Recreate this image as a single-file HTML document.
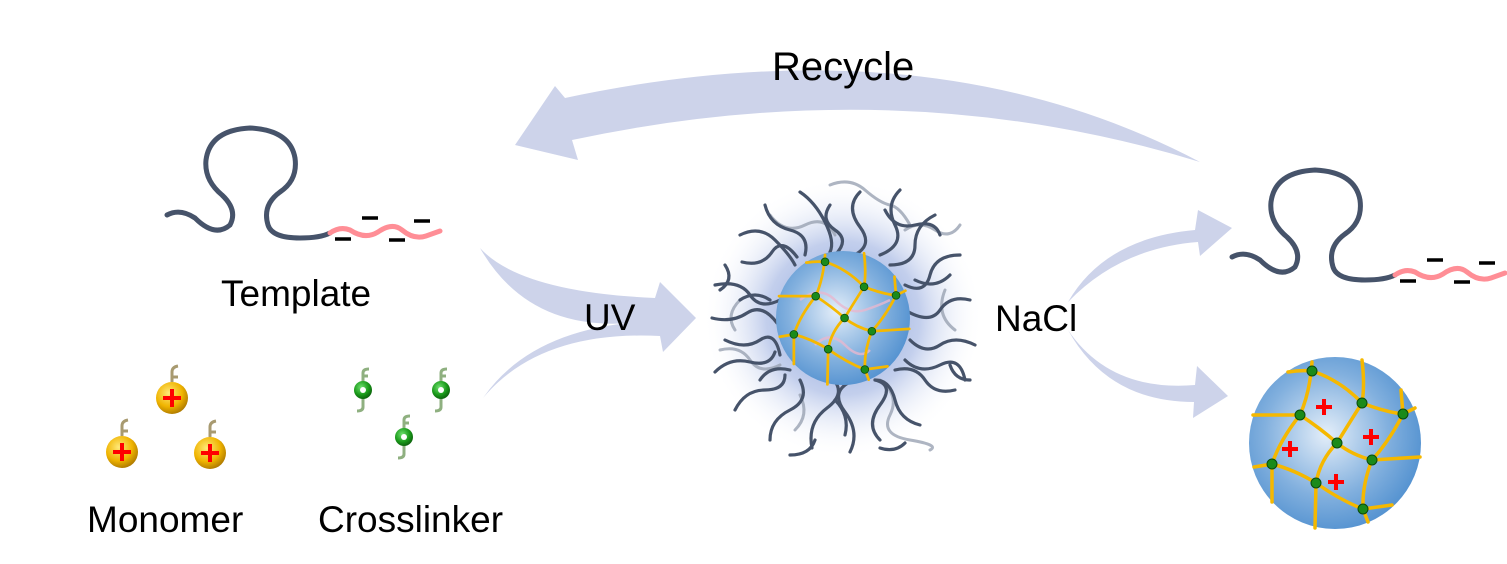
<!DOCTYPE html>
<html><head><meta charset="utf-8"><style>
html,body{margin:0;padding:0;background:#fff;}
svg{display:block;}
text{font-family:"Liberation Sans",sans-serif;fill:#000;}
</style></head><body>
<svg width="1507" height="564" viewBox="0 0 1507 564" xmlns="http://www.w3.org/2000/svg">
<defs>
<radialGradient id="halo" cx="0.5" cy="0.5" r="0.5">
<stop offset="0" stop-color="#7f9ad6"/>
<stop offset="0.55" stop-color="#b4c3e8" stop-opacity="0.8"/>
<stop offset="1" stop-color="#ffffff" stop-opacity="0"/>
</radialGradient>
<radialGradient id="core" cx="0.45" cy="0.45" r="0.6">
<stop offset="0" stop-color="#e4eef9"/>
<stop offset="0.6" stop-color="#82b0de"/>
<stop offset="1" stop-color="#4f8fcf"/>
</radialGradient>
<radialGradient id="gold" cx="0.4" cy="0.35" r="0.7">
<stop offset="0" stop-color="#ffe97a"/>
<stop offset="0.6" stop-color="#f0b400"/>
<stop offset="1" stop-color="#a87400"/>
</radialGradient>
<radialGradient id="grn" cx="0.4" cy="0.35" r="0.7">
<stop offset="0" stop-color="#6fe06f"/>
<stop offset="0.6" stop-color="#1a9a1a"/>
<stop offset="1" stop-color="#0a5a0a"/>
</radialGradient>
<g id="net">
<g fill="none" stroke="#f5b800" stroke-width="3.5" stroke-linejoin="round" stroke-linecap="round">
<path d="M1288,372 Q1300,370 1312,371 Q1340,380 1362,403 Q1385,412 1403,414 L1415,408"/>
<path d="M1253,415 L1300,415 Q1320,428 1337,443 Q1352,455 1372,460 L1420,457"/>
<path d="M1254,467 L1272,464 Q1295,470 1316,483 Q1340,500 1363,509 L1392,505"/>
<path d="M1312,362 Q1310,392 1300,415 Q1280,440 1272,464 L1272,502"/>
<path d="M1362,360 Q1365,385 1362,403 Q1348,425 1337,443 Q1320,460 1316,483 L1315,528"/>
<path d="M1401,390 L1403,414 Q1390,440 1372,460 Q1362,485 1363,509 L1368,522"/>
</g>
<g fill="#1a8a1a" stroke="#0a4a0a" stroke-width="1">
<circle cx="1312" cy="371" r="5"/><circle cx="1362" cy="403" r="5"/><circle cx="1403" cy="414" r="5"/>
<circle cx="1300" cy="415" r="5"/><circle cx="1337" cy="443" r="5"/><circle cx="1372" cy="460" r="5"/>
<circle cx="1272" cy="464" r="5"/><circle cx="1316" cy="483" r="5"/><circle cx="1363" cy="509" r="5"/>
</g>
</g>
<g id="tmpl">
<path d="M167,215 Q180,208 195,218 Q215,238 230,225 Q238,210 222,195 Q204,180 206,160 Q210,130 250,128 Q290,130 295,158 Q298,180 280,192 Q262,205 268,225 Q272,238 300,238 Q320,238 330,233" fill="none" stroke="#46536a" stroke-width="5" stroke-linecap="round"/>
<path d="M330,233 Q340,226 350,230 Q365,240 378,232 Q392,222 402,230 Q414,240 426,236 L440,231" fill="none" stroke="#ff8e96" stroke-width="5" stroke-linecap="round"/>
<g stroke="#000" stroke-width="3.5"><line x1="335" y1="239" x2="351" y2="239"/><line x1="362" y1="218" x2="378" y2="218"/><line x1="389" y1="240" x2="405" y2="240"/><line x1="414" y1="221" x2="430" y2="221"/></g>
</g>
</defs>

<!-- arrows -->
<g fill="#cdd3ea">
<path d="M1200,162 Q930,20 565,98 L555,86 L515,145 L578,160 L572,140 Q900,70 1200,162 Z"/>
<path d="M480,248 Q520,292 655,298 L660,282 L696,318 L663,352 L660,336 Q540,330 483,398 Q530,330 640,322 Q530,335 480,248 Z"/>
<path d="M1068,302 Q1105,238 1195,230 L1198,210 L1232,228 L1200,256 L1198,242 Q1120,248 1068,302 Z"/>
<path d="M1068,330 Q1110,392 1195,385 L1197,366 L1228,396 L1193,418 L1194,402 Q1108,402 1068,330 Z"/>
</g>
<text x="772" y="80" font-size="40">Recycle</text>
<text x="584" y="330" font-size="37">UV</text>
<text x="995" y="331" font-size="37">NaCl</text>

<!-- templates -->
<use href="#tmpl"/>
<use href="#tmpl" transform="translate(1065,42)"/>
<text x="221" y="306" font-size="37">Template</text>

<!-- center particle -->
<circle cx="843" cy="318" r="140" fill="url(#halo)"/>
<g fill="none" stroke="#9aa3b3" stroke-width="3" stroke-linecap="round" opacity="0.8">
<path d="M830,185 q20,-8 35,5 t25,15 t20,20"/>
<path d="M770,215 q15,20 35,10 t30,10"/>
<path d="M720,350 q20,-5 30,10 t30,5"/>
<path d="M880,380 q20,15 10,35 t20,25 t20,10"/>
<path d="M945,290 q-10,25 10,40"/>
<path d="M800,395 q10,20 -5,35"/>
<path d="M905,230 q15,-10 30,0 t25,-5"/>
<path d="M740,300 q-15,15 -5,30"/>
</g>
<g fill="none" stroke="#46536a" stroke-width="3.2" stroke-linecap="round">
<path d="M800,192 q15,10 25,30 t5,30"/>
<path d="M740,235 q20,-10 35,5 t20,25"/>
<path d="M715,285 q25,-5 35,10 t30,5"/>
<path d="M712,318 q20,5 35,-5 t30,10"/>
<path d="M715,372 q15,-15 35,-10 t25,-10"/>
<path d="M735,410 q10,-20 30,-20 t20,-15"/>
<path d="M770,440 q0,-20 20,-30 t10,-30"/>
<path d="M812,448 q-5,-25 15,-40 t5,-30"/>
<path d="M850,452 q10,-20 -5,-40 t5,-30"/>
<path d="M880,440 q-15,-15 0,-35 t-5,-25"/>
<path d="M920,425 q-20,-5 -25,-25 t-20,-20"/>
<path d="M955,390 q-20,5 -30,-10 t-30,-10"/>
<path d="M975,345 q-20,-10 -35,0 t-30,-5"/>
<path d="M970,300 q-20,-5 -30,10 t-35,0"/>
<path d="M960,255 q-25,0 -30,20 t-25,10"/>
<path d="M935,215 q-20,10 -20,30 t-25,20"/>
<path d="M900,190 q-15,15 -5,35 t-15,30"/>
<path d="M860,192 q-15,15 0,35 t-10,30"/>
<path d="M765,205 q5,20 25,25 t15,25"/>
<path d="M725,265 q10,15 -5,25"/>
<path d="M950,365 q5,15 20,15"/>
<path d="M790,455 q20,0 25,-15"/>
<path d="M880,448 q15,5 25,-5"/>
<path d="M742,262 q20,5 30,-10 t25,5"/>
<path d="M725,340 q20,10 35,0 t20,15"/>
<path d="M760,380 q10,-15 30,-10"/>
<path d="M830,205 q-10,15 5,25 t0,25"/>
<path d="M885,210 q10,20 30,15 t25,10"/>
<path d="M915,280 q20,10 35,-5"/>
<path d="M905,360 q15,15 35,5 t25,15"/>
<path d="M835,400 q15,15 10,35"/>
<path d="M770,300 q-15,-10 -30,0"/>
</g>
<circle cx="843" cy="318" r="67" fill="url(#core)"/>
<g fill="none" stroke="#e7b8d0" stroke-width="2.5" opacity="0.8">
<path d="M800,300 q20,-15 35,0 t30,10 t25,-10"/>
<path d="M815,345 q15,-15 30,0 t25,5"/>
</g>
<use href="#net" transform="translate(843,318) scale(0.78) translate(-1335,-443)"/>

<!-- right particle -->
<circle cx="1335" cy="443" r="86" fill="url(#core)"/>
<use href="#net"/>
<g stroke="#ff0000" stroke-width="4">
<line x1="1316" y1="407" x2="1332" y2="407"/><line x1="1324" y1="399" x2="1324" y2="415"/>
<line x1="1363" y1="437" x2="1379" y2="437"/><line x1="1371" y1="429" x2="1371" y2="445"/>
<line x1="1282" y1="449" x2="1298" y2="449"/><line x1="1290" y1="441" x2="1290" y2="457"/>
<line x1="1328" y1="482" x2="1344" y2="482"/><line x1="1336" y1="474" x2="1336" y2="490"/>
</g>

<!-- monomers -->
<g>
<g fill="none" stroke="#a89a70" stroke-width="3">
<path d="M172,382 v-10 q0,-5 6,-6 M172,377 h6"/>
<path d="M122,436 v-10 q0,-5 6,-6 M122,431 h6"/>
<path d="M210,437 v-10 q0,-5 6,-6 M210,432 h6"/>
</g>
<circle cx="172" cy="398" r="16" fill="url(#gold)"/>
<circle cx="122" cy="452" r="16" fill="url(#gold)"/>
<circle cx="210" cy="453" r="16" fill="url(#gold)"/>
<g stroke="#ff0000" stroke-width="4">
<line x1="163" y1="398" x2="181" y2="398"/><line x1="172" y1="389" x2="172" y2="407"/>
<line x1="113" y1="452" x2="131" y2="452"/><line x1="122" y1="443" x2="122" y2="461"/>
<line x1="201" y1="453" x2="219" y2="453"/><line x1="210" y1="444" x2="210" y2="462"/>
</g>
</g>
<!-- crosslinkers -->
<g fill="none" stroke="#8fb080" stroke-width="3">
<path d="M363,381 v-8 q0,-4 6,-4 M363,376 h5 M363,399 v8 q0,4 -6,4"/>
<path d="M441,381 v-8 q0,-4 6,-4 M441,376 h5 M441,399 v8 q0,4 -6,4"/>
<path d="M404,428 v-8 q0,-4 6,-4 M404,423 h5 M404,446 v8 q0,4 -6,4"/>
</g>
<circle cx="363" cy="390" r="9" fill="url(#grn)"/><circle cx="363" cy="390" r="3" fill="#fff"/>
<circle cx="441" cy="390" r="9" fill="url(#grn)"/><circle cx="441" cy="390" r="3" fill="#fff"/>
<circle cx="404" cy="437" r="9" fill="url(#grn)"/><circle cx="404" cy="437" r="3" fill="#fff"/>

<text x="87" y="532" font-size="37">Monomer</text>
<text x="318" y="532" font-size="37">Crosslinker</text>
</svg>
</body></html>
